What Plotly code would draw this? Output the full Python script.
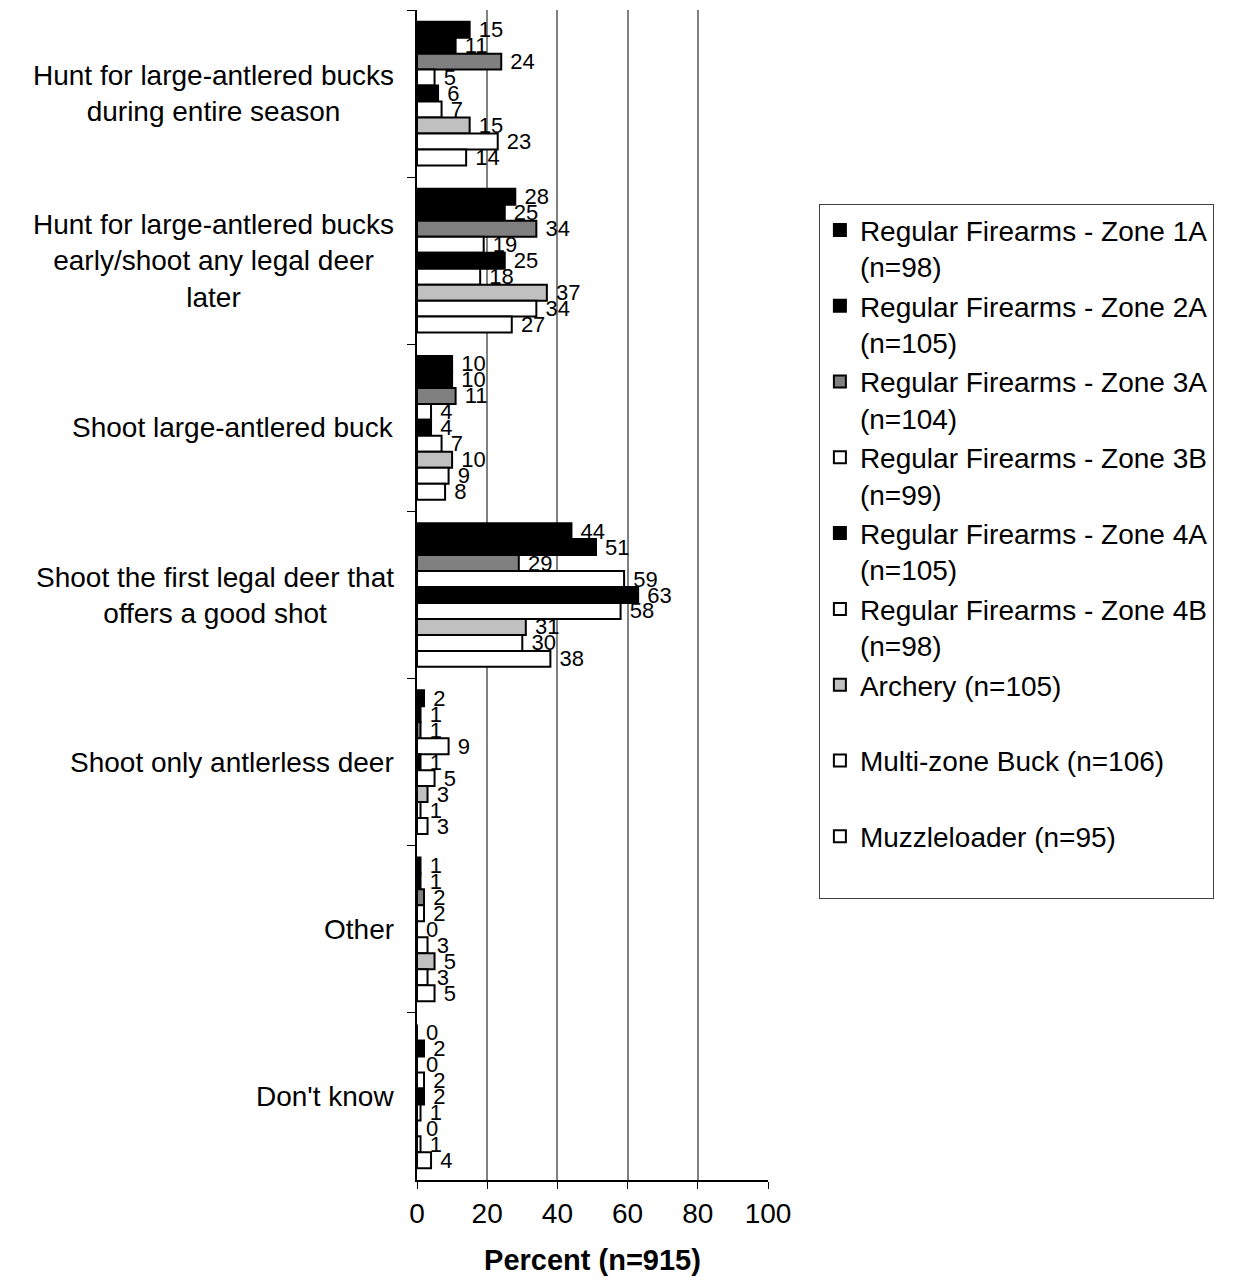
import plotly.graph_objects as go

categories = [
    "Hunt for large-antlered bucks<br>during entire season",
    "Hunt for large-antlered bucks<br>early/shoot any legal deer<br>later",
    "Shoot large-antlered buck",
    "Shoot the first legal deer that<br>offers a good shot",
    "Shoot only antlerless deer",
    "Other",
    "Don't know",
]

series_names = [
    "Regular Firearms - Zone 1A<br>(n=98)",
    "Regular Firearms - Zone 2A<br>(n=105)",
    "Regular Firearms - Zone 3A<br>(n=104)",
    "Regular Firearms - Zone 3B<br>(n=99)",
    "Regular Firearms - Zone 4A<br>(n=105)",
    "Regular Firearms - Zone 4B<br>(n=98)",
    "Archery (n=105)<br> ",
    "Multi-zone Buck (n=106)<br> ",
    "Muzzleloader (n=95)<br> ",
]

zone_1a = [15, 28, 10, 44, 2, 1, 0]
zone_2a = [11, 25, 10, 51, 1, 1, 2]
zone_3a = [24, 34, 11, 29, 1, 2, 0]
zone_3b = [5, 19, 4, 59, 9, 2, 2]
zone_4a = [6, 25, 4, 63, 1, 0, 2]
zone_4b = [7, 18, 7, 58, 5, 3, 1]
archery = [15, 37, 10, 31, 3, 5, 0]
multi_zone = [23, 34, 9, 30, 1, 3, 1]
muzzleloader = [14, 27, 8, 38, 3, 5, 4]

series_values = [zone_1a, zone_2a, zone_3a, zone_3b, zone_4a, zone_4b,
                 archery, multi_zone, muzzleloader]
colors = ["#000000", "#000000", "#808080", "#ffffff", "#000000", "#ffffff",
          "#c0c0c0", "#ffffff", "#ffffff"]

font = "Liberation Sans, Arial, sans-serif"

fig = go.Figure()
for i, (name, vals) in enumerate(zip(series_names, series_values)):
    fig.add_trace(go.Bar(
        y=categories, x=vals, name=name, orientation="h",
        marker=dict(color=colors[i], line=dict(color="#000000", width=2)),
        text=[" " + str(v) for v in vals], textposition="outside",
        textfont=dict(size=22, color="#000000", family=font),
        constraintext="none", cliponaxis=False,
        legendgroup=str(i),
    ))

for cat in categories:
    fig.add_annotation(
        x=-0.06, xref="paper", y=cat, yref="y", text=cat,
        showarrow=False, xanchor="right", align="center",
        font=dict(size=28, color="#000000", family=font),
    )

# page has an 8px body margin, so margins are shifted by 8px
fig.update_layout(
    width=1233, height=1287,
    margin=dict(l=409, r=473, t=2, b=115, autoexpand=False),
    barmode="group", bargap=0.14, bargroupgap=0,
    plot_bgcolor="#ffffff", paper_bgcolor="#ffffff",
    font=dict(family=font, size=28, color="#000000"),
    showlegend=True,
    legend=dict(
        x=1.145, y=0.834, xanchor="left", yanchor="top",
        bordercolor="#404040", borderwidth=1, bgcolor="#ffffff",
        font=dict(size=28, family=font), valign="top",
        tracegroupgap=0, traceorder="normal",
    ),
)
fig.update_xaxes(
    range=[0, 100], tickvals=[0, 20, 40, 60, 80, 100],
    showgrid=True, gridcolor="#808080", gridwidth=1.5,
    showline=True, linecolor="#000000", linewidth=2,
    ticks="outside", ticklen=7, tickcolor="#000000",
    tickfont=dict(size=28), zeroline=False,
    title=dict(text="<b>Percent (n=915)</b>", font=dict(size=29), standoff=22),
)
fig.update_yaxes(
    autorange="reversed", showticklabels=False,
    showline=True, linecolor="#000000", linewidth=2,
    ticks="outside", ticklen=8, tickcolor="#000000",
    tickson="boundaries", showgrid=False,
)

fig.write_html("out.html")
